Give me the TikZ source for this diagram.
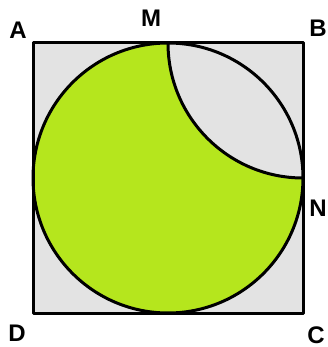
\documentclass[tikz,border=0pt]{standalone}
\usepackage{fontspec}
\setmainfont{Liberation Sans}
\definecolor{sqgray}{HTML}{E3E3E3}
\definecolor{lime}{HTML}{B5E61D}
\tikzset{
  lbl/.style={font=\fontsize{24}{24}\selectfont\bfseries, inner sep=0pt},
  edge/.style={line width=3pt, line join=round}
}
\begin{document}
\begin{tikzpicture}[x=1pt,y=1pt]
\useasboundingbox (0,0) rectangle (328,347);
\coordinate (A) at (33,304);
\coordinate (B) at (303,304);
\coordinate (C) at (303,33);
\coordinate (D) at (33,33);
\coordinate (O) at (168,169);
\coordinate (M) at (168,304);
\coordinate (N) at (303,169);
\fill[sqgray] (A) rectangle (C);
\fill[lime] (M) arc[start angle=90, end angle=360, radius=135] arc[start angle=270, end angle=180, radius=135] -- cycle;
\draw[edge] (O) circle[radius=135];
\draw[edge] (N) arc[start angle=270, end angle=180, radius=135];
\draw[edge] (A) -- (B) -- (C) -- (D) -- cycle;
\node[lbl] (lA) at (18,317) {A};
\node[lbl] (lM) at (151,329) {M};
\node[lbl] (lB) at (318,319) {B};
\node[lbl] (lN) at (318,139) {N};
\node[lbl] (lD) at (17,14) {D};
\node[lbl] (lC) at (316,12) {C};
\end{tikzpicture}
\end{document}
